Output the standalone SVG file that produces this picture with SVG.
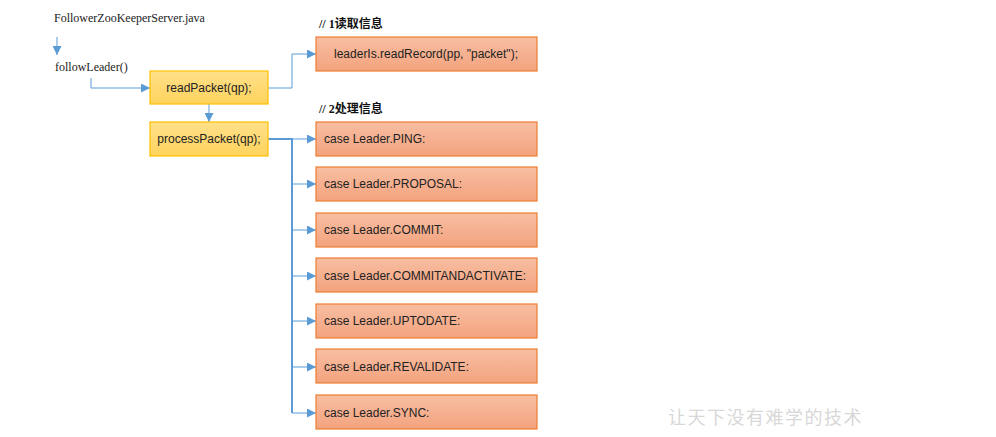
<svg xmlns="http://www.w3.org/2000/svg" width="996" height="437" viewBox="0 0 996 437">
<defs>
<linearGradient id="gy" x1="0" y1="0" x2="0" y2="1"><stop offset="0" stop-color="#FFE08A"/><stop offset="1" stop-color="#FFD35C"/></linearGradient>
<linearGradient id="go" x1="0" y1="0" x2="0" y2="1"><stop offset="0" stop-color="#F7BEA2"/><stop offset="1" stop-color="#F4A37E"/></linearGradient>
<marker id="ah" viewBox="0 0 10 10" refX="10" refY="5" markerWidth="9" markerHeight="9" markerUnits="userSpaceOnUse" orient="auto"><path d="M0,0 L10,5 L0,10 z" fill="#5B9BD5"/></marker>
</defs>
<style>
.y{fill:url(#gy);stroke:#FFC000;stroke-width:1.2}
.o{fill:url(#go);stroke:#ED7D31;stroke-width:1.2}
.t{font-family:"Liberation Sans",Arial,sans-serif;font-size:12px;fill:#222}
.s{font-family:"Liberation Serif","Times New Roman",serif;font-size:12px;fill:#222}
.h{font-family:"Liberation Serif","Noto Sans CJK SC",serif;font-size:12px;font-weight:bold;fill:#111}
.c{fill:none;stroke:#5B9BD5;stroke-width:1}
.ct{fill:none;stroke:#5B9BD5;stroke-width:2}
</style>
<rect width="996" height="437" fill="#fff"/>
<g id="label-file"><text class="s" x="54" y="22">FollowerZooKeeperServer.java</text></g>
<g id="label-follow"><text class="s" x="55" y="71">followLeader()</text></g>
<g id="comment1"><text class="h" x="319" y="28">// 1读取信息</text></g>
<g id="comment2"><text class="h" x="319" y="113">// 2处理信息</text></g>
<g id="connectors">
<path class="c" d="M57,37 V55" marker-end="url(#ah)"/>
<path class="c" d="M91,78 V88 H150" marker-end="url(#ah)"/>
<path class="c" d="M209,104 V122" marker-end="url(#ah)"/>
<path class="c" d="M268,88 H292 V54 H316" marker-end="url(#ah)"/>
<path class="ct" d="M268,139 H292 V413"/>
<path class="c" d="M292,139 H316" marker-end="url(#ah)"/>
<path class="c" d="M292,184 H316" marker-end="url(#ah)"/>
<path class="c" d="M292,230 H316" marker-end="url(#ah)"/>
<path class="c" d="M292,276 H316" marker-end="url(#ah)"/>
<path class="c" d="M292,321 H316" marker-end="url(#ah)"/>
<path class="c" d="M292,367 H316" marker-end="url(#ah)"/>
<path class="c" d="M292,413 H316" marker-end="url(#ah)"/>
</g>
<g id="readPacket"><rect class="y" x="150" y="71" width="118" height="33"/><text class="t" x="209" y="92" text-anchor="middle">readPacket(qp);</text></g>
<g id="processPacket"><rect class="y" x="150" y="122" width="118" height="34"/><text class="t" x="209" y="143" text-anchor="middle">processPacket(qp);</text></g>
<g id="readRecord"><rect class="o" x="316" y="37" width="221" height="34"/><text class="t" x="426" y="58" text-anchor="middle">leaderIs.readRecord(pp, "packet");</text></g>
<g id="ping"><rect class="o" x="316" y="122" width="221" height="34"/><text class="t" x="324" y="143">case Leader.PING:</text></g>
<g id="proposal"><rect class="o" x="316" y="167" width="221" height="34"/><text class="t" x="324" y="188">case Leader.PROPOSAL:</text></g>
<g id="commit"><rect class="o" x="316" y="213" width="221" height="34"/><text class="t" x="324" y="234">case Leader.COMMIT:</text></g>
<g id="commitandactivate"><rect class="o" x="316" y="258" width="221" height="34"/><text class="t" x="324" y="280">case Leader.COMMITANDACTIVATE:</text></g>
<g id="uptodate"><rect class="o" x="316" y="304" width="221" height="34"/><text class="t" x="324" y="325">case Leader.UPTODATE:</text></g>
<g id="revalidate"><rect class="o" x="316" y="349" width="221" height="34"/><text class="t" x="324" y="371">case Leader.REVALIDATE:</text></g>
<g id="sync"><rect class="o" x="316" y="395" width="221" height="34"/><text class="t" x="324" y="417">case Leader.SYNC:</text></g>
<g id="watermark"><text x="668" y="424" font-family="'Noto Sans CJK SC',sans-serif" font-size="18" fill="#d8d8d8" letter-spacing="1.5">让天下没有难学的技术</text></g>
</svg>
